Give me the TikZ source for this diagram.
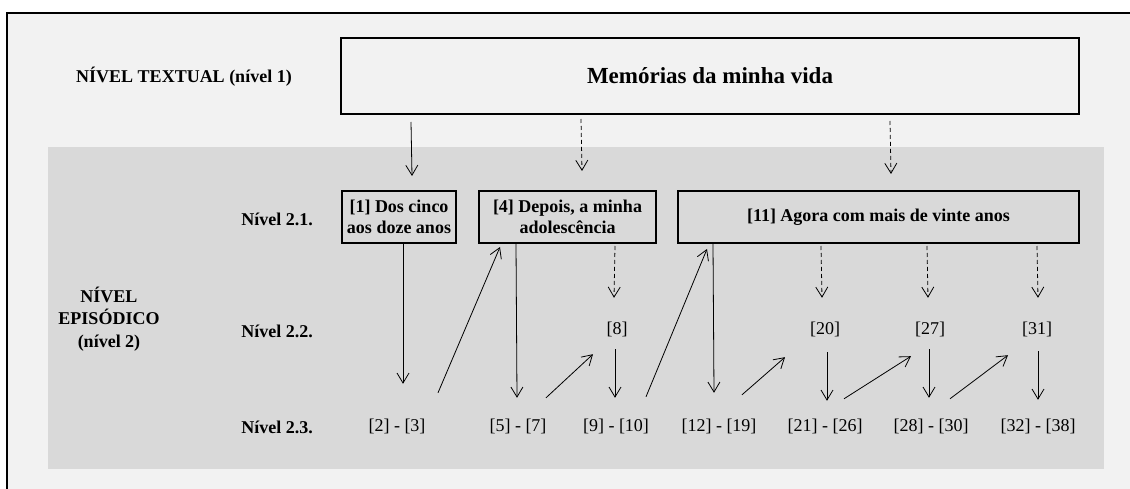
\documentclass[tikz,border=0pt]{standalone}
\usepackage{fontspec}
\setmainfont{Liberation Serif}
\usetikzlibrary{arrows.meta,calc}
\definecolor{pagebg}{HTML}{F2F2F2}
\definecolor{panel}{HTML}{D9D9D9}
\begin{document}
\begin{tikzpicture}[x=1pt,y=-1pt,
  every node/.style={inner sep=0pt},
  lvl/.style={font=\bfseries\fontsize{18}{22.5}\selectfont, align=center},
  epbox/.style={draw, line width=2pt, fill=panel, align=center,
    font=\bfseries\fontsize{18}{21}\selectfont, minimum height=52pt},
  refnum/.style={font=\fontsize{18}{22}\selectfont, text height=12pt, text depth=4pt},
  link/.style={line width=0.8pt, -{Straight Barb[length=10pt,width=12pt]}},
  dlink/.style={link, dash pattern=on 4pt off 3pt},
]
\useasboundingbox (0,0) rectangle (1130,489);
% page, frame and episodic panel
\fill[white] (0,0) rectangle (1130,489);
\fill[pagebg] (7,13) rectangle (1130,489);
\fill[panel] (48,147) rectangle (1104,469);
\draw[line width=2pt] (7,489) -- (7,13) -- (1130,13);

% textual level
\node[lvl] (lvtext) at (184,77) {NÍVEL TEXTUAL (nível 1)};
\node[draw, line width=2pt, fill=pagebg, minimum width=738pt, minimum height=76pt,
  font=\bfseries\fontsize{23}{27}\selectfont] (top) at (710,76) {Memórias da minha vida};

% episodic level labels
\node[lvl] (lvepi) at (109,319) {NÍVEL\\EPISÓDICO\\(nível 2)};
\node[lvl] (l21) at (277,219) {Nível 2.1.};
\node[lvl] (l22) at (277,331) {Nível 2.2.};
\node[lvl] (l23) at (277,427) {Nível 2.3.};

% level 2.1 episodes
\node[epbox, minimum width=114pt] (b1) at (399,217) {[1] Dos cinco\\aos doze anos};
\node[epbox, minimum width=177pt] (b4) at (567.5,217) {[4] Depois, a minha\\adolescência};
\node[epbox, minimum width=401pt] (b11) at (878.5,217) {[11] Agora com mais de vinte anos};

% level 2.2
\node[refnum] (r8) at (617,330) {[8]};
\node[refnum] (r20) at (825,330) {[20]};
\node[refnum] (r27) at (930,330) {[27]};
\node[refnum] (r31) at (1037,330) {[31]};

% level 2.3
\node[refnum] (t2) at (397,427) {[2] - [3]};
\node[refnum] (t5) at (518,427) {[5] - [7]};
\node[refnum] (t9) at (616,427) {[9] - [10]};
\node[refnum] (t12) at (719,427) {[12] - [19]};
\node[refnum] (t21) at (825,427) {[21] - [26]};
\node[refnum] (t28) at (931,427) {[28] - [30]};
\node[refnum] (t32) at (1038,427) {[32] - [38]};

% from the text to the episodes of level 2.1
\draw[link] ($(top.south west)+(71,7)$) -- ($(b1.north)+(13,-14)$);
\draw[dlink] ($(top.south west)+(241,4)$) -- ($(b4.north)+(14.5,-19)$);
\draw[dlink] ($(top.south west)+(550,6)$) -- ($(b11.north)+(12.5,-16)$);

% episode [1]
\draw[link] ($(b1.south)+(4,0)$) -- ($(t2.north)+(6,-35)$);
\draw[link] ($(t2.north)+(41,-26)$) -- ($(b4.south west)+(22,3)$);

% episode [4]
\draw[link] ($(b4.south west)+(38,0)$) -- ($(t5.north)+(-1,-21)$);
\draw[link] ($(t5.north)+(28,-21)$) -- ($(r8.south)+(-24,16)$);
\draw[dlink] ($(b4.south east)+(-42,2)$) -- ($(r8.north)+(-3,-24)$);
\draw[link] ($(r8.south)+(-2,11)$) -- ($(t9.north)+(-1,-21)$);
\draw[link] ($(t9.north)+(30,-22)$) -- ($(b11.south west)+(30,5)$);

% episode [11]
\draw[link] ($(b11.south west)+(36,0)$) -- ($(t12.north)+(-5,-26)$);
\draw[link] ($(t12.north)+(23,-24)$) -- ($(r20.south)+(-40,19)$);
\draw[dlink] ($(b11.south west)+(144,2)$) -- ($(r20.north)+(-3,-24)$);
\draw[link] ($(r20.south)+(2,14)$) -- ($(t21.north)+(2,-18)$);
\draw[link] ($(t21.north)+(19,-20)$) -- ($(r27.south)+(-19,18)$);
\draw[dlink] ($(b11.south west)+(250,2)$) -- ($(r27.north)+(-2,-24)$);
\draw[link] ($(r27.south)+(-1,11)$) -- ($(t28.north)+(-2,-21)$);
\draw[link] ($(t28.north)+(19,-20)$) -- ($(r31.south)+(-29,17)$);
\draw[dlink] ($(b11.south west)+(360,2)$) -- ($(r31.north)+(1,-24)$);
\draw[link] ($(r31.south)+(1,13)$) -- ($(t32.north)+(0,-19)$);
\end{tikzpicture}
\end{document}
